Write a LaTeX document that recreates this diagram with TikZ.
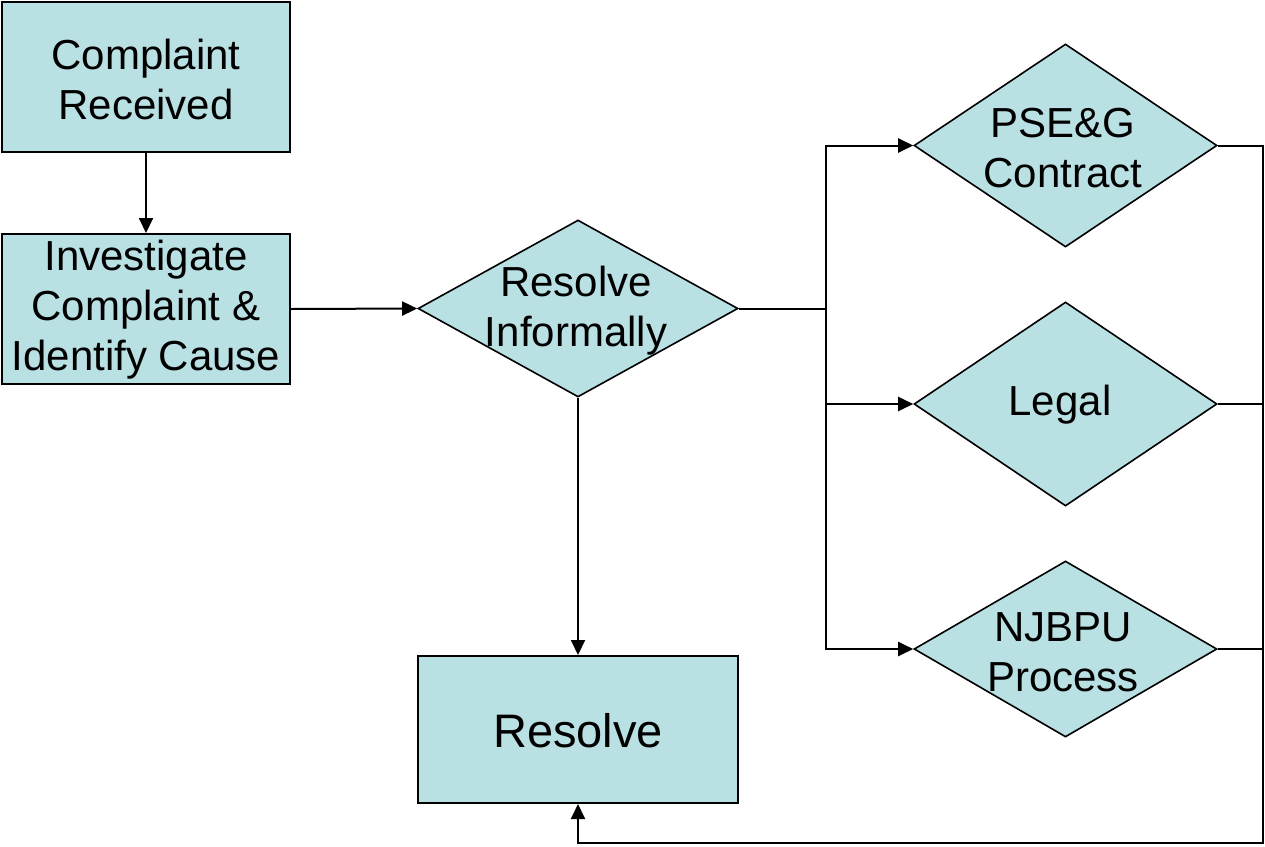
\documentclass[tikz,border=0pt]{standalone}
\usepackage{fontspec}
\setmainfont{Liberation Sans}
\usetikzlibrary{shapes.geometric,arrows.meta}
\definecolor{fillblue}{RGB}{185,224,227}
\begin{document}
\begin{tikzpicture}[x=1pt,y=-1pt,
  box/.style={draw=black,line width=2pt,fill=fillblue,rectangle,inner sep=0pt},
  dia/.style={draw=black,line width=1.6pt,fill=fillblue,diamond,inner sep=0pt},
  txt/.style={align=center,inner sep=0pt,font=\fontsize{42}{50}\selectfont},
  conn/.style={line width=2pt},
  arr/.style={line width=2pt,-{Triangle[length=15pt,width=14pt]}}]
\useasboundingbox (0,0) rectangle (1265,846);
% boxes
\node[box,minimum width=288pt,minimum height=150pt] (b1) at (146,77) {};
\node[txt] (t1) at (146,79) {Complaint\\Received};
\node[box,minimum width=288pt,minimum height=150pt] (b2) at (146,309) {};
\node[txt] (t2) at (146,310) {Investigate\\Complaint \&\\Identify Cause};
\node[dia,minimum width=320pt,minimum height=177pt] (d1) at (578,308.5) {};
\node[txt] (t3) at (576,311) {Resolve\\Informally};
\node[box,minimum width=320pt,minimum height=147pt] (res) at (578,729.5) {};
\node[txt,font=\fontsize{47}{56}\selectfont] (t4) at (578,731) {Resolve};
\node[dia,minimum width=303pt,minimum height=203pt] (d2) at (1065.5,145.5) {};
\node[txt] (t5) at (1063,148) {PSE\&G\\Contract};
\node[dia,minimum width=303pt,minimum height=204pt] (d3) at (1065.5,404) {};
\node[txt] (t6) at (1060,405) {Legal};
\node[dia,minimum width=303pt,minimum height=176pt] (d4) at (1065.5,649) {};
\node[txt] (t7) at (1063,652) {NJBPU\\Process};
% coordinates
\coordinate (J) at (826,308.5);
\coordinate (R) at (1263,843);
% connectors
\draw[arr] (b1) -- (b2);
\draw[arr] (b2.east) -- (d1.west);
\draw[conn] (d1.east) -- (J);
\draw[arr] (J) |- (d2.west);
\draw[arr] (J) |- (d4.west);
\draw[arr] (J |- d3.west) -- (d3.west);
\draw[arr] (d1.south) -- (res.north);
\draw[arr,line join=miter] (d2.east) -| (R) -| (res.south);
\draw[conn] (d3.east) -- (d3.east -| R);
\draw[conn] (d4.east) -- (d4.east -| R);
\end{tikzpicture}
\end{document}
